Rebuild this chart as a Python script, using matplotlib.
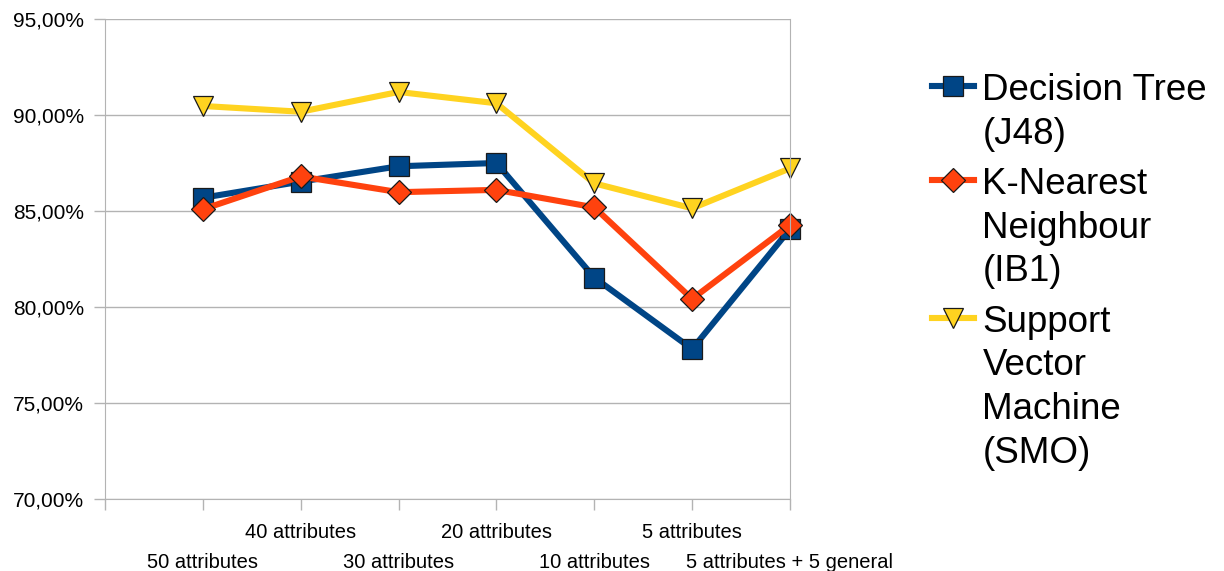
import matplotlib.pyplot as plt

plt.rcParams["font.family"] = ["Liberation Sans", "DejaVu Sans"]

categories = [
    "50 attributes",
    "40 attributes",
    "30 attributes",
    "20 attributes",
    "10 attributes",
    "5 attributes",
    "5 attributes + 5 general",
]
decision_tree = [85.69, 86.53, 87.33, 87.50, 81.53, 77.81, 84.06]
knn = [85.09, 86.80, 85.98, 86.10, 85.19, 80.42, 84.27]
svm = [90.47, 90.17, 91.20, 90.61, 86.44, 85.14, 87.22]

series_labels = [
    "Decision Tree\n(J48)",
    "K-Nearest\nNeighbour\n(IB1)",
    "Support\nVector\nMachine\n(SMO)",
]
y_ticks = [70, 75, 80, 85, 90, 95]
y_tick_labels = ["70,00%", "75,00%", "80,00%", "85,00%", "90,00%", "95,00%"]

fig = plt.figure(figsize=(12.24, 5.71), dpi=100)
ax = fig.add_axes([105 / 1224, 1 - 499 / 571, 685 / 1224, 480 / 571])

x = list(range(len(categories)))
style = dict(lw=4.4, markersize=14.5, markeredgecolor="#1a1a1a",
             markeredgewidth=0.9, clip_on=False)
ax.plot(x, decision_tree, color="#004586", marker="s", label=series_labels[0], **style)
ax.plot(x, knn, color="#ff420e", marker="D", label=series_labels[1],
        **{**style, "markersize": 12})
ax.plot(x, svm, color="#ffd320", marker="v", label=series_labels[2],
        **{**style, "markersize": 15})

ax.set_xlim(-1, len(categories) - 1)
ax.set_ylim(70, 95)
ax.set_yticks(y_ticks, y_tick_labels)
ax.set_xticks([-1] + x, [""] + categories)
for i, tick in enumerate(ax.xaxis.get_major_ticks()):
    tick.set_pad(9.5 if i % 2 == 0 else 31)  # staggered category labels

grid_col = "#b3b3b3"
ax.grid(axis="y", color=grid_col, lw=1)
ax.set_axisbelow(True)
for side in ["left", "bottom", "right"]:
    ax.spines[side].set_color(grid_col)
ax.spines["top"].set_visible(False)
ax.tick_params(axis="both", length=8, width=1, color=grid_col, labelcolor="black")
ax.tick_params(axis="x", labelsize=14.5)
ax.tick_params(axis="y", labelsize=15, pad=7)

leg = ax.legend(loc="upper left", bbox_to_anchor=(932 / 1224, 1 - 73 / 571),
                bbox_transform=fig.transFigure, frameon=False, fontsize=26.5,
                handlelength=1.15, handletextpad=0.22, labelspacing=0.42,
                borderpad=0, borderaxespad=0)
for t in leg.get_texts():
    t.set_linespacing(1.32)
# keep each marker level with the first line of its label
for col in leg._legend_handle_box.get_children():
    for item in col.get_children():
        item.align = "top"

fig.savefig("out.png", dpi=100)
